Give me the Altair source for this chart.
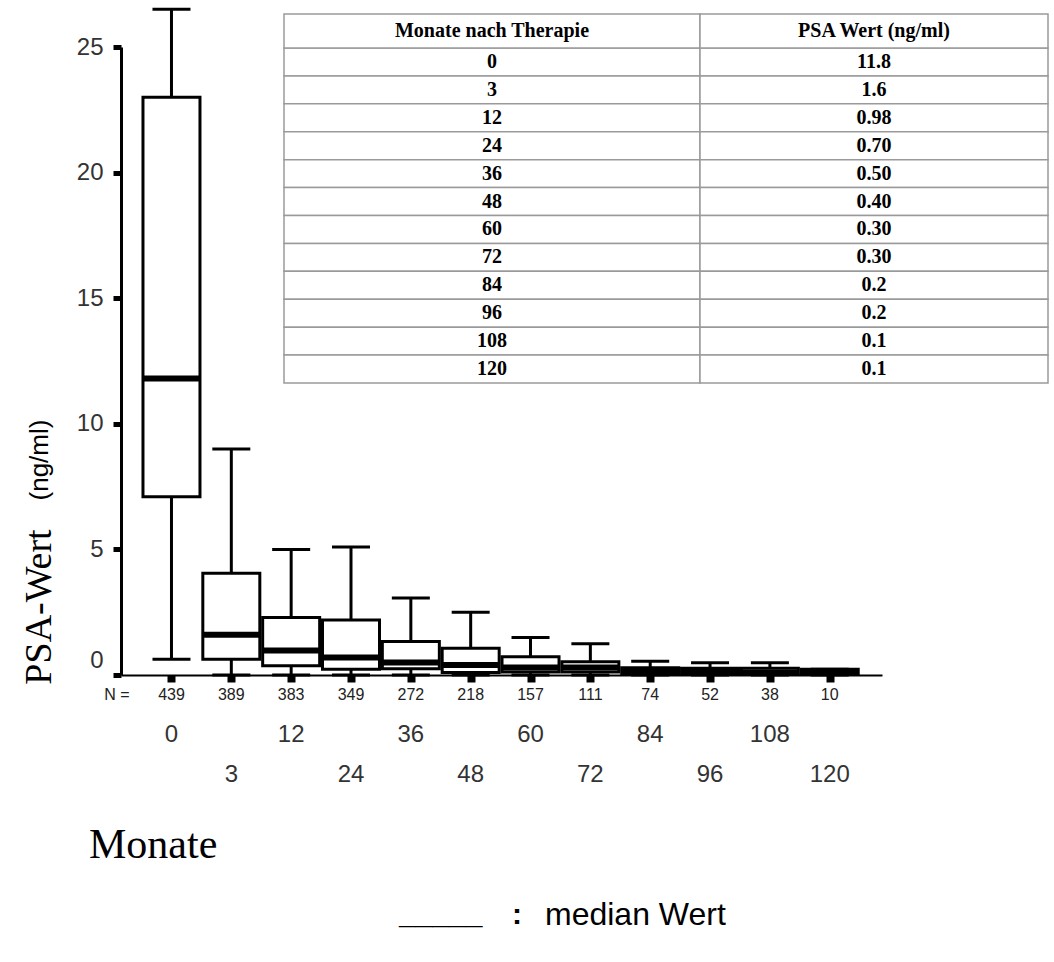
import altair as alt
import pandas as pd

# ---------------- data ----------------
months = [0, 3, 12, 24, 36, 48, 60, 72, 84, 96, 108, 120]
n_patients = [439, 389, 383, 349, 272, 218, 157, 111, 74, 52, 38, 10]
medians = [11.8, 1.6, 0.98, 0.70, 0.50, 0.40, 0.30, 0.30, 0.2, 0.2, 0.1, 0.1]
q1 = [7.1, 0.63, 0.37, 0.23, 0.25, 0.1, 0.12, 0.12, 0.05, 0.05, 0.05, 0.05]
q3 = [23.0, 4.05, 2.29, 2.19, 1.33, 1.06, 0.73, 0.53, 0.29, 0.27, 0.27, 0.23]
whisker_low = [0.63, 0, 0, 0, 0, 0, 0, 0, 0, 0, 0, 0]
whisker_high = [26.5, 9.0, 5.0, 5.1, 3.07, 2.5, 1.49, 1.24, 0.55, 0.49, 0.49, 0.23]
table_psa = ["11.8", "1.6", "0.98", "0.70", "0.50", "0.40", "0.30", "0.30",
             "0.2", "0.2", "0.1", "0.1"]
table_header = ["Monate nach Therapie", "PSA Wert  (ng/ml)"]
y_ticks = [0, 5, 10, 15, 20, 25]

df = pd.DataFrame({
    "idx": list(range(len(months))),
    "month_label": [str(m) for m in months],
    "n": n_patients,
    "median": medians,
    "q1": q1,
    "q3": q3,
    "lo": whisker_low,
    "hi": whisker_high,
    "psa": table_psa,
})
df["row"] = df["idx"] % 2
one = pd.DataFrame({"a": [0]})

SANS = "Liberation Sans, Arial, sans-serif"
NARROW = "Liberation Sans Narrow, Arial Narrow, Liberation Sans, sans-serif"
SERIF = "Liberation Serif, Times New Roman, serif"

W, H = 761, 628

xscale = alt.Scale(domain=[-0.76, 11.79], nice=False, zero=False)
yscale = alt.Scale(domain=[0, 25], nice=False, zero=True)

X = alt.X("idx:Q", scale=xscale,
          axis=alt.Axis(values=list(range(len(months))), labels=False, title=None,
                        grid=False, tickSize=7, tickWidth=8, tickColor="black",
                        domainColor="black", domainWidth=2))
Xp = alt.X("idx:Q", scale=xscale)

yaxis = alt.Axis(values=y_ticks, title=None, grid=False, tickSize=8, tickWidth=5,
                 tickColor="black", domainColor="black", domainWidth=3,
                 labelFont=SANS, labelFontSize=24, labelColor="#333333",
                 labelPadding=10,
                 labelOffset={"condition": {"test": "datum.value === 0", "value": -15},
                              "value": 0})

base = alt.Chart(df)

whisk = base.mark_rule(color="black", strokeWidth=3, opacity=1).encode(
    x=X, y=alt.Y("lo:Q", scale=yscale, axis=yaxis), y2="hi:Q")
cap_hi = base.mark_tick(orient="horizontal", size=38, thickness=3,
                        color="black", opacity=1).encode(
    x=Xp, y=alt.Y("hi:Q", scale=yscale))
cap_lo = base.mark_tick(orient="horizontal", size=38, thickness=3,
                        color="black", opacity=1).encode(
    x=Xp, y=alt.Y("lo:Q", scale=yscale))
boxes = base.mark_bar(width=57, fill="white", stroke="black", strokeWidth=3,
                      opacity=1).encode(
    x=Xp, y=alt.Y("q1:Q", scale=yscale), y2="q3:Q")
med = base.mark_tick(orient="horizontal", size=57, thickness=6,
                     color="black", opacity=1).encode(
    x=Xp, y=alt.Y("median:Q", scale=yscale))

n_text = base.mark_text(font=NARROW, fontSize=16, color="#222222").encode(
    x=Xp, y=alt.value(648), text="n:Q")
m_row0 = base.transform_filter("datum.row == 0").mark_text(
    font=SANS, fontSize=24, color="#333333").encode(
    x=Xp, y=alt.value(688), text="month_label:N")
m_row1 = base.transform_filter("datum.row == 1").mark_text(
    font=SANS, fontSize=24, color="#333333").encode(
    x=Xp, y=alt.value(728), text="month_label:N")

ann = alt.Chart(one)
n_eq = ann.mark_text(text="N =", font=NARROW, fontSize=16, color="#222222").encode(
    x=alt.value(-4), y=alt.value(648))
monate = ann.mark_text(text="Monate", font=SERIF, fontSize=42, align="left",
                       color="black").encode(x=alt.value(-32), y=alt.value(798))
psa_t = ann.mark_text(text="PSA-Wert", font=SERIF, fontSize=38, angle=270,
                      color="black").encode(x=alt.value(-81), y=alt.value(560))
ngml_t = ann.mark_text(text="(ng/ml)", font=SANS, fontSize=26, angle=270,
                       color="black").encode(x=alt.value(-81), y=alt.value(413))
leg1 = ann.mark_text(text="_____", font=SANS, fontSize=30, fontWeight="bold",
                     align="left", color="black").encode(
    x=alt.value(278), y=alt.value(868))
leg_colon = ann.mark_text(text=":", font=SANS, fontSize=30, fontWeight="bold",
                          align="center", color="black").encode(
    x=alt.value(396), y=alt.value(868))
leg2 = ann.mark_text(text="median Wert", font=SANS, fontSize=32, align="left",
                     color="black").encode(x=alt.value(424), y=alt.value(868))

main = alt.layer(whisk, cap_lo, cap_hi, boxes, med, n_text, m_row0, m_row1,
                 n_eq, monate, psa_t, ngml_t, leg1, leg_colon, leg2)

# ---------------- table ----------------
TL, TD, TR = 163, 579, 927
tscale = alt.Scale(type="band", domain=[str(m) for m in months], range=[1, 336],
                   paddingInner=0, paddingOuter=0)
TY = alt.Y("month_label:O", scale=tscale, axis=None)
LINE = "#9a9a9a"

r1 = base.mark_rect(fill="white", stroke=LINE, strokeWidth=1.5, opacity=1).encode(
    x=alt.value(TL), x2=alt.value(TD), y=TY)
r2 = base.mark_rect(fill="white", stroke=LINE, strokeWidth=1.5, opacity=1).encode(
    x=alt.value(TD), x2=alt.value(TR), y=TY)
h1 = ann.mark_rect(fill="white", stroke=LINE, strokeWidth=1.5).encode(
    x=alt.value(TL), x2=alt.value(TD), y=alt.value(-33), y2=alt.value(1))
h2 = ann.mark_rect(fill="white", stroke=LINE, strokeWidth=1.5).encode(
    x=alt.value(TD), x2=alt.value(TR), y=alt.value(-33), y2=alt.value(1))
ht1 = ann.mark_text(text=table_header[0], font=SERIF, fontSize=20,
                    fontWeight="bold", color="black").encode(
    x=alt.value((TL + TD) / 2), y=alt.value(-16))
ht2 = ann.mark_text(text=table_header[1], font=SERIF, fontSize=20,
                    fontWeight="bold", color="black").encode(
    x=alt.value((TD + TR) / 2), y=alt.value(-16))
t1 = base.mark_text(font=SERIF, fontSize=20, fontWeight="bold", color="black").encode(
    x=alt.value((TL + TD) / 2), y=TY, text="month_label:N")
t2 = base.mark_text(font=SERIF, fontSize=20, fontWeight="bold", color="black").encode(
    x=alt.value((TD + TR) / 2), y=TY, text="psa:N")

table = alt.layer(r1, r2, h1, h2, ht1, ht2, t1, t2)

chart = alt.layer(main, table).resolve_scale(y="independent").properties(
    width=W, height=H,
    autosize=alt.AutoSizeParams(type="none"),
    padding={"left": 121, "top": 47, "right": 172, "bottom": 287},
    background="white",
).configure_view(stroke=None)

chart.save("out.html", embed_options={"renderer": "svg", "actions": False})
